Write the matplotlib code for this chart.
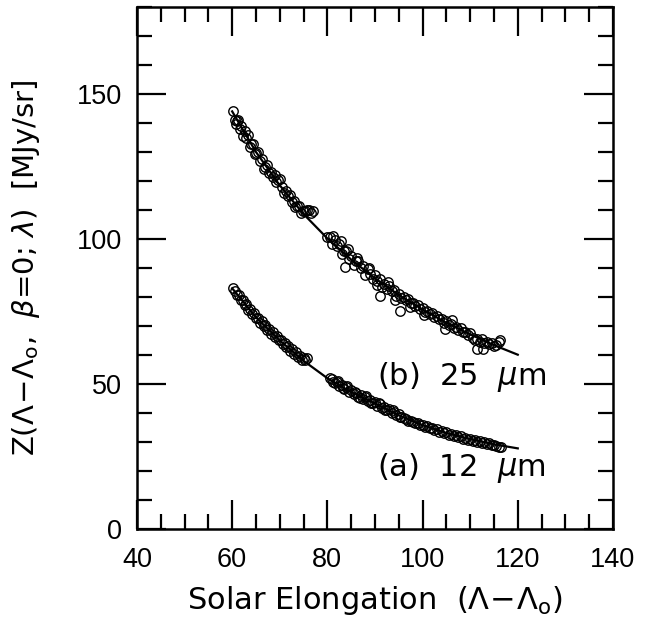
import matplotlib
matplotlib.use('Agg')
import matplotlib.pyplot as plt
from matplotlib.ticker import MultipleLocator

plt.rcParams['mathtext.fontset'] = 'dejavusans'

# 25 micron band, observed brightness (two elongation runs)
b_x = [60.2, 60.5, 60.7, 61.0, 61.3, 61.6, 61.9, 62.3, 62.6, 63.0, 63.3, 63.7, 64.0, 64.4, 64.8,
       65.1, 65.5, 65.9, 66.2, 66.6, 67.0, 67.3, 67.7, 68.1, 68.5, 68.9, 69.3, 69.7, 70.1, 70.5,
       70.9, 71.3, 71.7, 72.1, 72.5, 72.9, 73.3, 73.7, 74.1, 74.5, 74.9, 75.3, 75.7, 76.1, 76.5,
       76.9,
       80.0, 80.5, 81.0, 81.5, 82.0, 82.5, 83.0, 83.5, 84.0, 84.5, 85.0, 85.5, 86.0, 86.5, 87.0,
       87.5, 88.0, 88.5, 89.0, 89.5, 90.0, 90.5, 91.0, 91.5, 92.0, 92.5, 93.0, 93.5, 94.0, 94.5,
       95.0, 95.5, 96.0, 96.5, 97.0, 97.5, 98.0, 98.5, 99.0, 99.5, 100.0, 100.5, 101.0, 101.5,
       102.0, 102.5, 103.0, 103.5, 104.0, 104.5, 105.0, 105.5, 106.0, 106.5, 107.0, 107.5, 108.0,
       108.5, 109.0, 109.5, 110.0, 110.5, 111.0, 111.5, 112.0, 112.5, 113.0, 113.5, 114.0, 114.5,
       115.0, 115.5, 116.0,
       83.7, 91.0, 95.3, 104.7, 106.2, 111.4, 112.7, 116.3, 81.2, 82.8, 84.4, 86.2, 88.8, 90.4,
       92.8, 94.2, 97.3, 100.3]
b_y = [144.3, 140.9, 139.8, 140.6, 141.0, 138.1, 138.8, 135.5, 137.2, 134.7, 135.7, 131.6, 132.6,
       132.6, 129.4, 129.6, 130.1, 127.0, 127.6, 124.3, 124.8, 125.4, 122.6, 123.0, 121.4, 121.9,
       119.7, 120.5, 120.6, 118.0, 115.8, 116.4, 114.7, 115.1, 112.8, 113.1, 111.0, 111.4, 111.4,
       109.1, 109.5, 109.7, 110.0, 110.1, 109.0, 109.5,
       100.6, 100.8, 98.2, 99.6, 97.5, 98.3, 94.8, 96.0, 95.9, 93.0, 94.1, 90.9, 92.3, 92.5, 89.9,
       90.6, 87.5, 89.5, 88.0, 86.2, 87.6, 85.5, 86.1, 83.5, 84.6, 82.9, 83.9, 82.2, 82.4, 80.5,
       81.0, 79.7, 80.1, 78.9, 79.2, 78.0, 78.0, 76.8, 77.3, 76.0, 76.1, 74.7, 75.1, 74.0, 74.4,
       73.0, 73.5, 72.3, 72.3, 71.0, 71.6, 70.4, 70.7, 69.4, 69.7, 68.7, 69.2, 68.0, 68.1, 66.9,
       67.5, 65.9, 65.1, 65.6, 64.6, 65.5, 64.2, 64.6, 63.7, 64.2, 63.1, 63.6, 64.6,
       90.2, 80.2, 75.0, 68.8, 72.2, 61.9, 61.9, 65.3, 100.9, 99.2, 96.7, 93.5, 90.0, 84.0,
       85.3, 78.8, 76.6, 73.9]

# 12 micron band
a_x = [60.2, 60.6, 61.0, 61.4, 61.8, 62.2, 62.6, 63.0, 63.4, 63.8, 64.2, 64.6, 65.0, 65.4, 65.8,
       66.2, 66.6, 67.0, 67.4, 67.8, 68.2, 68.6, 69.0, 69.4, 69.8, 70.2, 70.6, 71.0, 71.4, 71.8,
       72.2, 72.6, 73.0, 73.4, 73.8, 74.2, 74.6, 75.0, 75.4, 75.8,
       80.5, 81.0, 81.5, 82.0, 82.5, 83.0, 83.5, 84.0, 84.5, 85.0, 85.5, 86.0, 86.5, 87.0, 87.5,
       88.0, 88.5, 89.0, 89.5, 90.0, 90.5, 91.0, 91.5, 92.0, 92.5, 93.0, 93.5, 94.0, 94.5, 95.0,
       95.5, 96.0, 96.5, 97.0, 97.5, 98.0, 98.5, 99.0, 99.5, 100.0, 100.5, 101.0, 101.5, 102.0,
       102.5, 103.0, 103.5, 104.0, 104.5, 105.0, 105.5, 106.0, 106.5, 107.0, 107.5, 108.0, 108.5,
       109.0, 109.5, 110.0, 110.5, 111.0, 111.5, 112.0, 112.5, 113.0, 113.5, 114.0, 114.5, 115.0,
       115.5, 116.0, 116.5,
       81.2, 82.3, 83.2, 84.2, 85.8, 86.8, 88.2, 89.2, 90.8, 92.2, 93.8, 95.2]
a_y = [83.1, 82.0, 80.6, 80.7, 79.0, 78.9, 77.3, 77.5, 75.6, 75.9, 74.2, 74.5, 72.6, 72.9, 71.2,
       71.6, 70.0, 70.4, 68.6, 69.0, 67.4, 67.8, 66.1, 66.5, 65.0, 65.3, 63.7, 64.1, 62.6, 63.0,
       61.5, 62.0, 60.5, 60.9, 59.4, 59.8, 58.4, 58.9, 58.3, 59.1,
       51.9, 51.6, 50.2, 50.8, 49.3, 49.8, 48.3, 48.9, 47.3, 47.9, 46.4, 46.9, 45.6, 46.1, 44.8,
       45.4, 44.1, 44.6, 43.3, 43.8, 42.5, 43.0, 41.8, 42.2, 40.9, 41.3, 40.1, 40.5, 39.2, 39.7,
       38.5, 38.2, 37.9, 37.4, 37.3, 37.0, 36.5, 36.7, 35.9, 36.0, 35.2, 35.5, 34.7, 34.9, 34.1,
       34.4, 33.6, 33.9, 33.0, 33.3, 32.5, 32.8, 32.1, 32.4, 31.7, 31.9, 31.2, 31.5, 30.8, 31.1,
       30.4, 30.7, 30.0, 30.3, 29.6, 29.9, 29.3, 29.5, 28.9, 29.1, 28.6, 28.4, 28.3,
       50.8, 51.2, 48.6, 49.2, 47.3, 45.3, 45.8, 43.4, 43.6, 41.2, 41.0, 38.6]

# model fits
fit_x = [60, 65, 70, 75, 80, 85, 90, 95, 100, 105, 110, 115, 120]
fit_b = [144.0, 130.0, 118.5, 108.6, 100.2, 92.9, 86.4, 80.7, 75.7, 71.1, 67.1, 63.4, 60.1]
fit_a = [83.0, 73.0, 65.0, 58.0, 52.0, 47.2, 43.3, 39.2, 35.8, 33.1, 31.0, 29.2, 27.8]

fig = plt.figure(figsize=(6.56, 6.19), dpi=100)
ax = fig.add_axes([0.2088, 0.1454, 0.7256, 0.8433])

ax.plot(b_x, b_y, 'o', mfc='none', mec='black', ms=6.8, mew=1.0)
ax.plot(a_x, a_y, 'o', mfc='none', mec='black', ms=6.8, mew=1.0)
ax.plot(fit_x, fit_b, color='black', lw=1.6)
ax.plot(fit_x, fit_a, color='black', lw=1.6)

ax.set_xlim(40, 140)
ax.set_ylim(0, 180)
ax.xaxis.set_major_locator(MultipleLocator(20))
ax.xaxis.set_minor_locator(MultipleLocator(5))
ax.yaxis.set_major_locator(MultipleLocator(50))
ax.yaxis.set_minor_locator(MultipleLocator(10))
ax.tick_params(which='both', direction='in', top=True, right=True, width=1.6)
ax.tick_params(which='major', length=21)
ax.tick_params(which='minor', length=11)
ax.tick_params(axis='x', which='major', pad=13)
ax.tick_params(axis='y', which='major', pad=11)
for lab in ax.get_xticklabels() + ax.get_yticklabels():
    lab.set_fontfamily('Liberation Sans')
    lab.set_fontsize(19.5)
for sp in ax.spines.values():
    sp.set_linewidth(1.8)

ax.text(90.4, 52.5, r'(b)  25  $\mu$m', fontsize=22, va='center', ha='left')
ax.text(90.4, 21.0, r'(a)  12  $\mu$m', fontsize=22, va='center', ha='left')

ax.set_xlabel(r'Solar Elongation  ($\Lambda\!-\!\Lambda_{\rm o}$)', fontsize=22)
ax.set_ylabel(r'Z($\Lambda\!-\!\Lambda_{\rm o}$,  $\beta$=0; $\lambda$)  [MJy/sr]', fontsize=21)
ax.xaxis.set_label_coords(0.5, -0.105)
ax.yaxis.set_label_coords(-0.2, 0.5)

plt.savefig('out.png', dpi=100)
plt.close()
